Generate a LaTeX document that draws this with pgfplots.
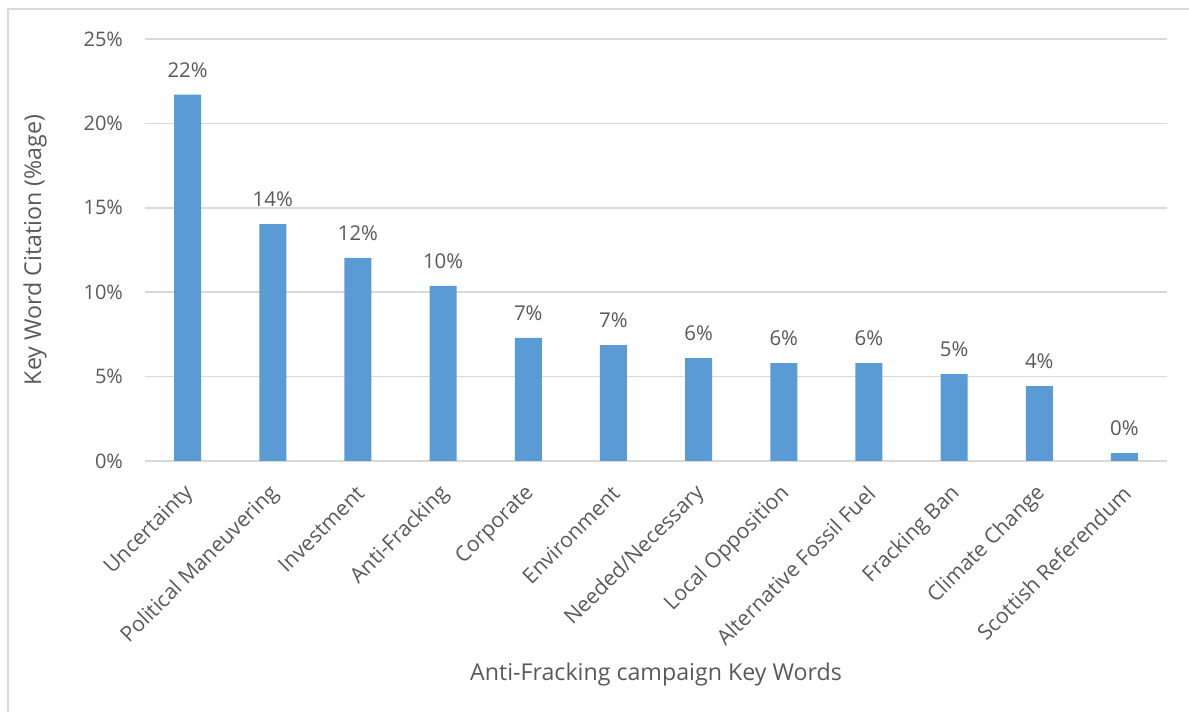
\documentclass[border=0pt]{standalone}
\usepackage{fontspec}
\setmainfont{Open Sans}
\usepackage{pgfplots}
\pgfplotsset{compat=1.18}
\usepackage{pgfplotstable}
\definecolor{barblue}{HTML}{5B9BD5}
\definecolor{txtgray}{HTML}{595959}
\definecolor{gridgray}{HTML}{D9D9D9}
\pgfplotstableread{
x y
0 21.7
1 14.04
2 12.03
3 10.37
4 7.29
5 6.87
6 6.10
7 5.80
8 5.80
9 5.15
10 4.44
11 0.47
}\datatable
\begin{document}
\begin{tikzpicture}
\path[use as bounding box] (0,0) rectangle (594.5pt,356pt);
\draw[gridgray, line width=0.75pt] (4pt,0) -- (4pt,351.5pt) -- (594.5pt,351.5pt);
\begin{axis}[
  at={(72.5pt,125.5pt)}, anchor=south west,
  scale only axis, width=511pt, height=211pt,
  xmin=-0.5, xmax=11.5, ymin=0, ymax=25,
  ytick={0,5,10,15,20,25},
  yticklabel={\pgfmathprintnumber{\tick}\%},
  xtick={0,...,11},
  xticklabels={Uncertainty,Political Maneuvering,Investment,Anti-Fracking,Corporate,Environment,Needed/Necessary,Local Opposition,Alternative Fossil Fuel,Fracking Ban,Climate Change,Scottish Referendum},
  /pgf/number format/assume math mode=true,
  font=\fontsize{10pt}{12pt}\selectfont,
  tick label style={text=txtgray, font=\fontsize{10pt}{12pt}\selectfont},
  yticklabel style={xshift=-7.5pt},
  xticklabel style={rotate=45, anchor=east, xshift=-5.9pt, yshift=-11.1pt, font=\fontsize{10.6pt}{12pt}\selectfont},
  major tick length=0pt,
  axis line style={draw=none},
  ymajorgrids, grid style={gridgray, line width=0.75pt},
  ylabel={Key Word Citation (\%age)},
  xlabel={Anti-Fracking campaign Key Words},
  label style={text=txtgray, font=\fontsize{11.6pt}{13pt}\selectfont},
  ylabel style={at={(axis description cs:-0.1076,0.5)}, anchor=center},
  xlabel style={at={(axis description cs:0.5,-0.507)}, anchor=center},
  clip=false,
]
\draw[gridgray, line width=0.75pt] (axis cs:-0.5,0) -- (axis cs:11.5,0);
\addplot[ybar, bar width=13.5pt, fill=barblue, draw=none,
  nodes near coords={\pgfmathprintnumber[fixed,precision=0]{\pgfplotspointmeta}\%},
  nodes near coords style={text=txtgray, anchor=south, yshift=5pt, font=\fontsize{10.2pt}{12pt}\selectfont},
] table[x=x,y=y] {\datatable};
\end{axis}
\end{tikzpicture}
\end{document}
